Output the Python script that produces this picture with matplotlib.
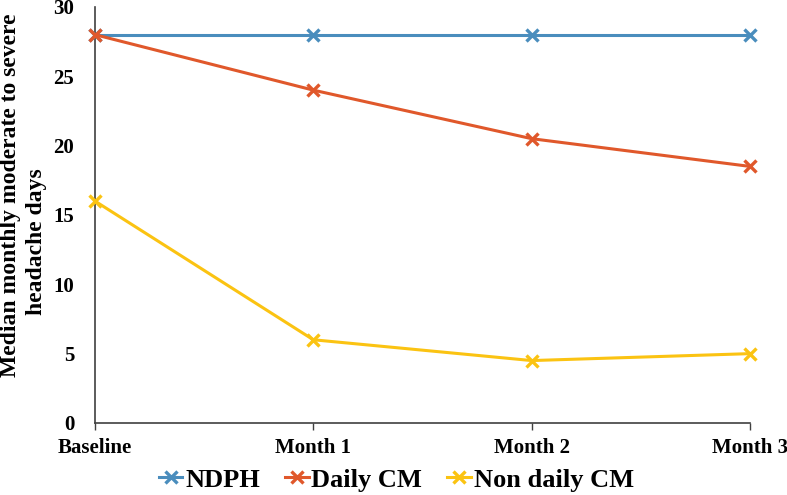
import matplotlib.pyplot as plt

categories = ["Baseline", "Month 1", "Month 2", "Month 3"]
ndph = [28, 28, 28, 28]
daily_cm = [28, 24, 20.5, 18.5]
non_daily_cm = [16, 6, 4.5, 5]

plt.rcParams['font.family'] = ['Liberation Serif', 'DejaVu Serif']
plt.rcParams['font.weight'] = 'bold'

fig = plt.figure(figsize=(7.87, 4.95), dpi=100)
ax = fig.add_axes([0.1207, 0.1455, 0.8323, 0.8405])

x = range(len(categories))
series = [
    ("NDPH", ndph, "#4a8dbd"),
    ("Daily CM", daily_cm, "#e0582b"),
    ("Non daily CM", non_daily_cm, "#fbc312"),
]
for name, vals, col in series:
    ax.plot(x, vals, color=col, lw=2.2, marker='x', ms=8, mew=2.4,
            label=name, clip_on=False, zorder=3)

ax.set_xlim(0, len(categories) - 1)
ax.set_ylim(0, 30)
ax.set_yticks(range(0, 31, 5))
ax.set_xticks(list(x))
ax.set_xticklabels(categories)
ax.tick_params(axis='y', length=0, pad=15, labelsize=15)
ax.tick_params(axis='x', length=5, width=1, color='#404040', pad=6, labelsize=15)
for t in ax.get_xticklabels() + ax.get_yticklabels():
    t.set_fontweight('bold')

for s in ['top', 'right']:
    ax.spines[s].set_visible(False)
for s in ['left', 'bottom']:
    ax.spines[s].set_color('#404040')
    ax.spines[s].set_linewidth(1.2)

# y label as two lines, placed like the original
fig.text(0.0135, 0.606, "Median monthly moderate to severe", rotation=90,
         ha='center', va='center', fontsize=17, fontweight='bold')
fig.text(0.046, 0.511, "headache days", rotation=90,
         ha='center', va='center', fontsize=17, fontweight='bold')

ax.legend(loc='center', bbox_to_anchor=(0.46, -0.137), ncol=3,
          frameon=False, prop={'size': 19, 'weight': 'bold'},
          handlelength=0.9, handletextpad=0.1, columnspacing=0.95)

fig.savefig("out.png", dpi=100)
